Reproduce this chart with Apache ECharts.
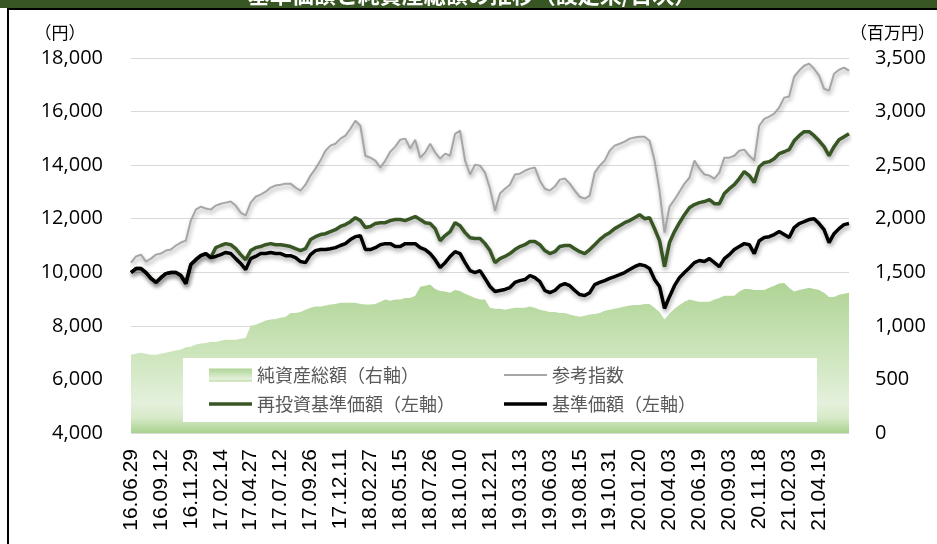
<!DOCTYPE html>
<html>
<head>
<meta charset="utf-8">
<script src="https://cdn.jsdelivr.net/npm/echarts@6/dist/echarts.min.js"></script>
<style>
html,body{margin:0;padding:0;background:#fff;}
#chart{width:937px;height:544px;}
</style>
</head>
<body>
<div id="chart"></div>
<script>
// X-axis tick labels (every 6th category carries a label)
const tickLabels = ['16.06.29','16.09.12','16.11.29','17.02.14','17.04.27','17.07.12','17.09.26','17.12.11',
  '18.02.27','18.05.15','18.07.26','18.10.10','18.12.21','19.03.13','19.06.03','19.08.15','19.10.31',
  '20.01.20','20.04.03','20.06.19','20.09.03','20.11.18','21.02.03','21.04.19'];

// 基準価額(左軸) – yen
const basePrice = [9990,10140,10140,9990,9770,9620,9800,9950,9990,9990,9880,9580,10290,10470,10620,10700,10550,10590,10660,10740,
  10700,10510,10330,10100,10510,10590,10700,10700,10740,10700,10700,10620,10620,10550,10400,10360,10660,10810,10850,10850,
  10880,10920,11000,11070,11220,11330,11370,10850,10850,10920,11030,11070,11070,10960,10960,11070,11070,11070,10920,10850,
  10700,10470,10180,10360,10590,10770,10700,10360,10060,9990,10060,9770,9470,9280,9320,9360,9430,9620,9690,9730,
  9880,9800,9650,9320,9240,9320,9500,9580,9500,9320,9170,9130,9240,9540,9620,9690,9770,9840,9910,9990,
  10100,10210,10290,10250,10140,9730,9470,8650,9090,9500,9800,9990,10170,10360,10440,10400,10510,10360,10210,10510,
  10660,10850,10960,11070,11030,10700,11180,11300,11330,11410,11520,11410,11300,11670,11820,11890,11970,12000,11820,11590,
  11110,11440,11630,11780,11820];

// 再投資基準価額(左軸) – yen
const reinvestPrice = [9990,10140,10140,9990,9770,9620,9800,9950,9990,9990,9880,9580,10290,10470,10620,10700,10550,10920,11000,11070,
  11030,10880,10660,10470,10810,10920,10960,11030,11070,11030,11030,11000,10960,10880,10810,10880,11220,11330,11410,11440,
  11520,11590,11710,11780,11890,12040,11930,11670,11710,11820,11850,11850,11930,11970,11970,11930,12000,12080,11970,11850,
  11820,11630,11180,11370,11520,11850,11740,11480,11290,11260,11260,11070,10810,10360,10510,10590,10700,10850,10960,11030,
  11150,11150,11030,10810,10700,10770,10960,11000,11000,10880,10770,10700,10850,11030,11220,11370,11480,11630,11740,11850,
  11930,12040,12150,12000,12040,11630,11180,10210,11110,11520,11850,12150,12410,12530,12600,12640,12710,12560,12560,12940,
  13120,13270,13500,13760,13610,13350,13940,14090,14130,14240,14430,14500,14580,14910,15100,15250,15250,15100,14910,14690,
  14350,14690,14950,15060,15170];

// 参考指数
const refIndex = [10360,10590,10660,10400,10510,10660,10700,10810,10850,11000,11110,11180,11930,12340,12450,12380,12340,12490,12560,12600,
  12640,12490,12230,12120,12600,12820,12900,13010,13160,13240,13270,13310,13310,13160,13050,13270,13610,13870,14170,14540,
  14730,14800,14990,15100,15360,15660,15470,14350,14280,14170,13910,14170,14500,14690,14950,14990,14620,14950,14280,14470,
  14800,14470,14240,14430,14350,15170,15290,14170,13650,14020,13980,13720,13120,12300,12940,13120,13270,13650,13680,13790,
  13870,13910,13420,13120,13050,13200,13460,13500,13310,13050,12820,12750,12860,13720,13980,14170,14540,14730,14800,14880,
  14990,15030,15060,15060,14910,14170,13050,11480,12450,12710,13010,13310,13530,14170,13870,13650,13610,13500,13720,14280,
  14280,14350,14540,14580,14350,14170,15470,15730,15810,15920,16150,16520,16560,17300,17530,17710,17790,17600,17340,16850,
  16780,17410,17560,17640,17530];

// 純資産総額(右軸) – million yen
const netAssets = [730,740,750,740,730,730,740,750,760,770,780,800,805,825,835,840,850,850,860,870,
  870,870,880,890,1000,1010,1030,1050,1060,1065,1075,1085,1120,1120,1130,1150,1170,1180,1180,1190,
  1200,1205,1215,1215,1215,1215,1205,1200,1200,1205,1225,1245,1235,1245,1245,1260,1260,1280,1365,1375,
  1385,1345,1325,1320,1310,1335,1325,1300,1280,1260,1245,1245,1170,1160,1160,1150,1160,1170,1170,1170,
  1180,1170,1150,1140,1130,1130,1120,1120,1105,1095,1085,1095,1105,1110,1120,1140,1150,1160,1170,1180,
  1190,1195,1195,1205,1205,1170,1130,1060,1115,1160,1195,1225,1245,1235,1225,1225,1225,1245,1260,1280,
  1280,1280,1320,1345,1345,1335,1335,1335,1355,1375,1395,1400,1355,1320,1335,1345,1355,1345,1335,1310,
  1270,1270,1290,1300,1310];

const seriesNames = ['純資産総額（右軸）','参考指数','再投資基準価額（左軸）','基準価額（左軸）'];

// Build category list: each tick date followed by 5 intermediate (estimated) dates
function parseD(s){const p=s.split('.');return new Date(2000+ +p[0], +p[1]-1, +p[2]);}
function fmt(d){const y=String(d.getFullYear()%100).padStart(2,'0');return y+'.'+String(d.getMonth()+1).padStart(2,'0')+'.'+String(d.getDate()).padStart(2,'0');}
const categories = [];
for (let k=0;k<tickLabels.length;k++){
  const d0=parseD(tickLabels[k]);
  const d1= k<tickLabels.length-1 ? parseD(tickLabels[k+1]) : new Date(d0.getTime()+72*86400000);
  categories.push(tickLabels[k]);
  for(let j=1;j<6;j++){categories.push(fmt(new Date(d0.getTime()+(d1-d0)*j/6)));}
}
categories.push(fmt(new Date(parseD(tickLabels[tickLabels.length-1]).getTime()+72*86400000)));
const lastTickIndex = (tickLabels.length-1)*6;

const chart = echarts.init(document.getElementById('chart'), null, {renderer:'canvas'});
const comma = v => v.toLocaleString('en-US');
const shadow = {shadowColor:'rgba(0,0,0,0.35)', shadowBlur:4, shadowOffsetX:1, shadowOffsetY:3};
const areaGrad = new echarts.graphic.LinearGradient(0,0,0,1,[
  {offset:0,color:'#afd495'},{offset:0.5,color:'#cfe6bf'},{offset:0.8,color:'#e4f0dc'},{offset:0.9,color:'#d6eac8'},{offset:1,color:'#a9d18e'}]);
const legendText = {fontFamily:'Noto Sans CJK JP', fontSize:18, color:'#595959'};
const thinIcon = 'path://M0,0H43V2H0Z';
const thickIcon = 'path://M0,0H43V3.5H0Z';

chart.setOption({
  animation:false,
  grid:{left:131,right:88,top:58,bottom:111,containLabel:false},
  xAxis:{type:'category',data:categories,boundaryGap:false,
    axisLine:{show:false},axisTick:{show:false},splitLine:{show:false},
    axisLabel:{interval:(i)=> i%6===0 && i<=lastTickIndex,rotate:90,margin:16,fontFamily:'Liberation Sans',fontSize:21,color:'#000'}},
  yAxis:[
    {type:'value',min:4000,max:18000,interval:2000,position:'left',
     axisLine:{show:false},axisTick:{show:false},
     splitLine:{lineStyle:{color:'#d9d9d9',width:1}},
     axisLabel:{margin:28,fontFamily:'Open Sans',fontSize:20,color:'#000',formatter:comma}},
    {type:'value',min:0,max:3500,interval:500,position:'right',
     axisLine:{show:false},axisTick:{show:false},splitLine:{show:false},
     axisLabel:{margin:26,fontFamily:'Open Sans',fontSize:20,color:'#000',formatter:comma}}
  ],
  legend:[
    {orient:'vertical',left:209,top:366,itemWidth:43,itemHeight:13,itemGap:11,padding:0,textStyle:legendText,symbolKeepAspect:true,
     data:[{name:seriesNames[0],icon:'rect',itemStyle:{color:areaGrad}},{name:seriesNames[2],icon:thickIcon}]},
    {orient:'vertical',left:504,top:366,itemWidth:43,itemHeight:13,itemGap:11,padding:0,textStyle:legendText,symbolKeepAspect:true,
     data:[{name:seriesNames[1],icon:thinIcon},{name:seriesNames[3],icon:thickIcon}]}
  ],
  graphic:[
    {type:'rect',z:3,shape:{x:183,y:358,width:634,height:64},style:{fill:'#fff'}},
    {type:'rect',z:10,shape:{x:0,y:0,width:937,height:8},style:{fill:'#375623'}},
    {type:'text',z:11,x:472,y:-5,style:{text:'基準価額と純資産総額の推移（設定来/日次）',fill:'#fff',font:'bold 22px "Noto Sans CJK JP"',align:'center',verticalAlign:'middle'}},
    {type:'line',z:10,shape:{x1:7,y1:9,x2:937,y2:9},style:{stroke:'#000',lineWidth:2}},
    {type:'line',z:10,shape:{x1:8,y1:9,x2:8,y2:544},style:{stroke:'#000',lineWidth:2}},
    {type:'text',z:10,x:60,y:33,style:{text:'（円）',fill:'#000',font:'17px "Noto Sans CJK JP"',align:'center',verticalAlign:'middle'}},
    {type:'text',z:10,x:850,y:33,style:{text:'（百万円）',fill:'#000',font:'17px "Noto Sans CJK JP"',align:'left',verticalAlign:'middle'}}
  ],
  series:[
    {name:seriesNames[0],type:'line',yAxisIndex:1,data:netAssets,symbol:'none',z:1,
     itemStyle:{color:'#b4d79b'},lineStyle:{width:0},areaStyle:{color:areaGrad,opacity:1}},
    {name:seriesNames[1],type:'line',yAxisIndex:0,data:refIndex,symbol:'none',z:2,
     itemStyle:{color:'#a6a6a6'},lineStyle:Object.assign({color:'#a6a6a6',width:2},shadow)},
    {name:seriesNames[2],type:'line',yAxisIndex:0,data:reinvestPrice,symbol:'none',z:3,
     itemStyle:{color:'#375623'},lineStyle:Object.assign({color:'#375623',width:3.5},shadow)},
    {name:seriesNames[3],type:'line',yAxisIndex:0,data:basePrice,symbol:'none',z:4,
     itemStyle:{color:'#000'},lineStyle:Object.assign({color:'#000',width:3.5},shadow)}
  ]
});
</script>
</body>
</html>
